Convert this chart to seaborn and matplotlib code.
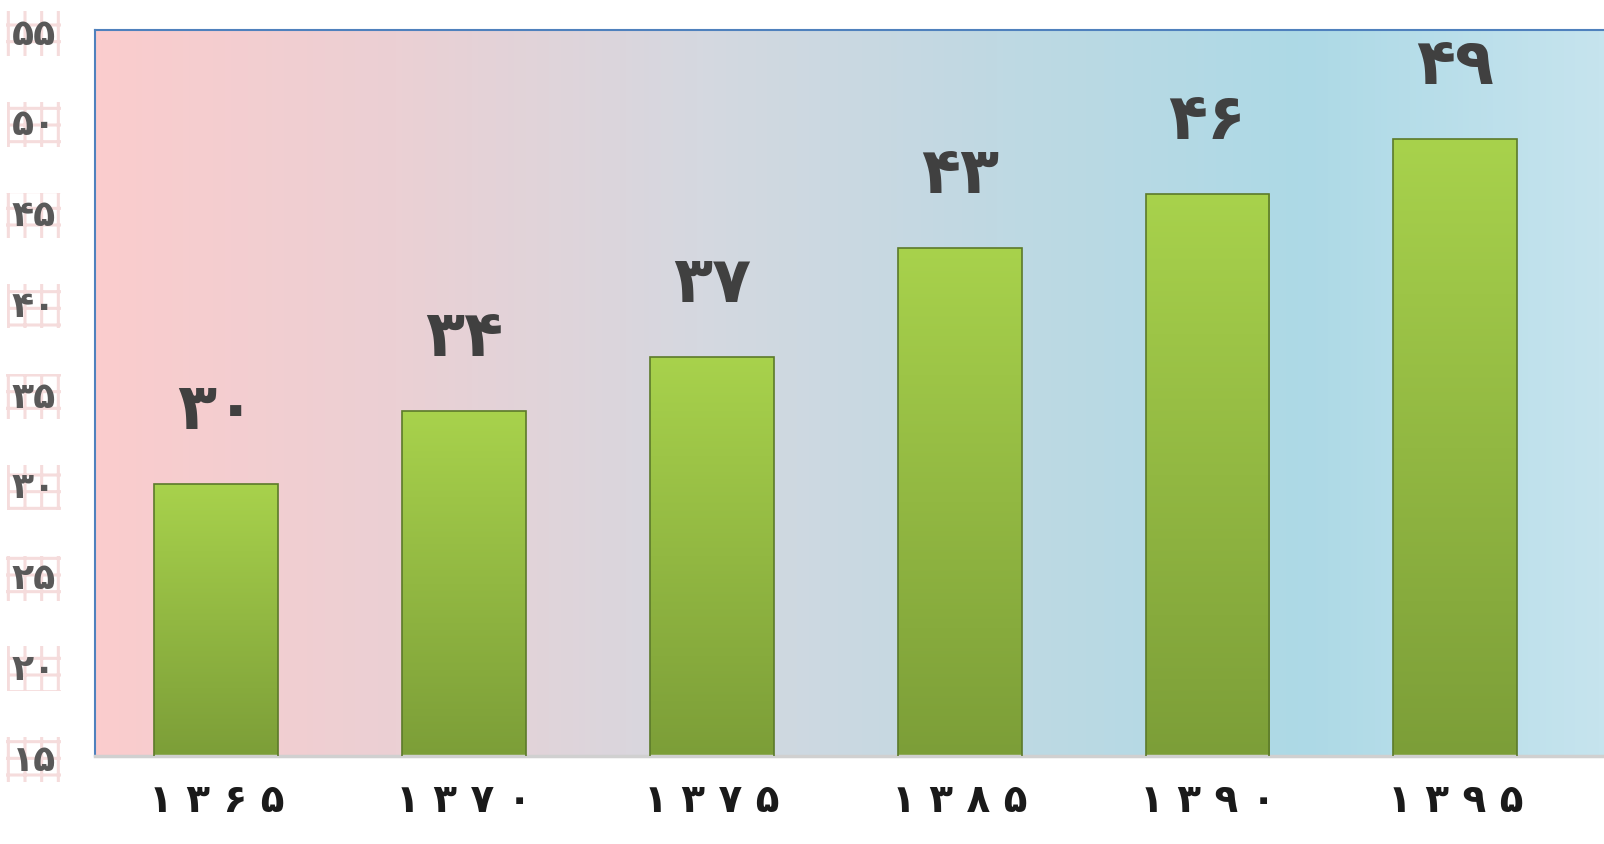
import numpy as np
import pandas as pd
import matplotlib
matplotlib.use('Agg')
import matplotlib.pyplot as plt
from matplotlib.colors import LinearSegmentedColormap
import seaborn as sns

# data
years = ['۱۳۶۵', '۱۳۷۰', '۱۳۷۵', '۱۳۸۵', '۱۳۹۰', '۱۳۹۵']
values = [30, 34, 37, 43, 46, 49]
y_ticks = [15, 20, 25, 30, 35, 40, 45, 50, 55]

PERSIAN = str.maketrans('0123456789', '۰۱۲۳۴۵۶۷۸۹')


def fa(n):
    return str(n).translate(PERSIAN)


sns.set_theme(style='white')
plt.rcParams['font.family'] = ['DejaVu Sans']
plt.rcParams['hatch.linewidth'] = 2.2

df = pd.DataFrame({'year': years, 'value': values})

fig = plt.figure(figsize=(16.04, 8.45), dpi=100)
ax = fig.add_axes([0.0592, 0.104, 0.9408, 0.859])

# background gradient pink -> grey -> light blue
bg_cmap = LinearSegmentedColormap.from_list(
    'bg', ['#FBCCCD', '#EBD0D4', '#D5D8E0', '#BFD9E3', '#ADD9E6', '#C6E4EE'])
ax.imshow(np.linspace(0, 1, 256).reshape(1, -1), cmap=bg_cmap, aspect='auto',
          extent=[0, 1, 0, 1], transform=ax.transAxes, zorder=0)

sns.barplot(data=df, x='year', y='value', width=0.5, color='#93BD44',
            ax=ax, zorder=2)

# green vertical gradient inside each bar
bar_cmap = LinearSegmentedColormap.from_list('bar', ['#7C9E38', '#A8D24C'])
grad = np.linspace(0, 1, 256).reshape(-1, 1)
for p in ax.patches:
    x0, w, h = p.get_x(), p.get_width(), p.get_height()
    im = ax.imshow(grad, cmap=bar_cmap, aspect='auto', origin='lower',
                   extent=[x0, x0 + w, 15, h], zorder=2)
    im.set_clip_path(p)
    p.set_facecolor('none')
    p.set_edgecolor('#5C7A2A')
    p.set_linewidth(1.2)
    p.set_zorder(3)
ax.set_ylim(15, 55)
ax.set_xlim(-0.49, 5.6)

# value labels above bars
for i, v in enumerate(values):
    ax.annotate(fa(v), (i, v), xytext=(0, 31), textcoords='offset points',
                ha='center', va='bottom', fontsize=46, fontweight='bold',
                color='#404040')

ax.set_xticks(range(len(years)))
ax.set_xticklabels([' '.join(y) for y in years], fontsize=28,
                   fontweight='bold', color='#1A1A1A')
ax.set_yticks(y_ticks)
ax.set_yticklabels([fa(t) for t in y_ticks], fontsize=26, fontweight='bold',
                   color='#595959')
for lab in ax.get_yticklabels():
    lab.set_bbox(dict(facecolor='none', edgecolor='#F5DCDC', hatch='+',
                      linewidth=0, pad=4))
ax.tick_params(axis='x', length=0, pad=18)
ax.tick_params(axis='y', length=0, pad=28)
ax.set_xlabel('')
ax.set_ylabel('')

for side in ['left', 'top']:
    ax.spines[side].set_color('#4F81BD')
    ax.spines[side].set_linewidth(1.5)
ax.spines['bottom'].set_color('#D0D0D0')
ax.spines['bottom'].set_linewidth(2.5)
ax.spines['right'].set_visible(False)

fig.savefig('out.png', dpi=100)
